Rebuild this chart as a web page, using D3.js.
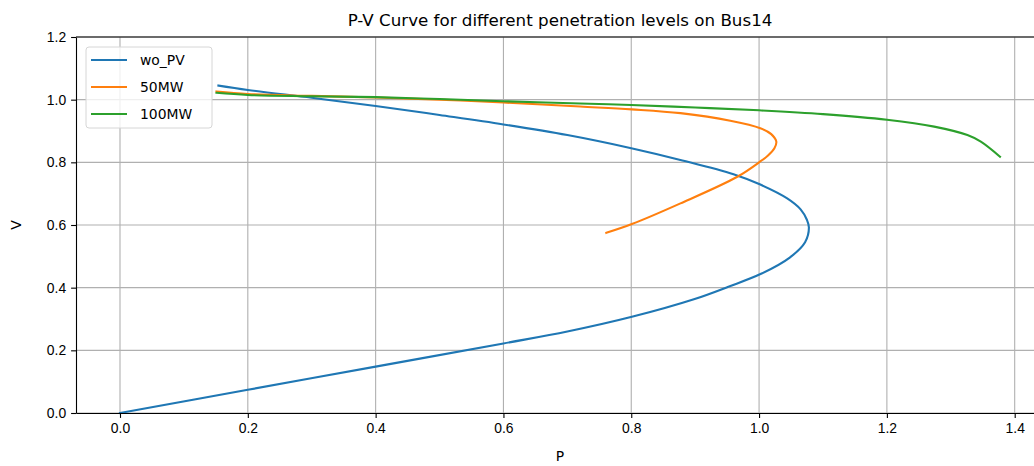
<!DOCTYPE html>
<html>
<head>
<meta charset="utf-8">
<script src="https://cdn.jsdelivr.net/npm/d3@7"></script>
<style>
  body { margin: 0; background: #fff; }
  svg { display: block; font-family: "DejaVu Sans", sans-serif; }
  .axis text { font-size: 13.9px; fill: #000; }
  .axis path, .axis line { stroke: #000; stroke-width: 1.1px; }
  .grid line { stroke: #b0b0b0; stroke-width: 1.1px; }
</style>
</head>
<body>
<div id="chart"></div>
<script>
const SERIES = ['wo_PV', '50MW', '100MW'];
const COLORS = ['#1f77b4', '#ff7f0e', '#2ca02c'];

// P values and V values
const WO_PV_P = [0.154, 0.2, 0.3, 0.4, 0.5, 0.6, 0.7, 0.8, 0.88, 0.96, 1.002, 1.044, 1.065, 1.075, 1.078, 1.072, 1.048, 1.004, 0.952, 0.898, 0.801, 0.700, 0.600, 0.400, 0.200, 0.0];
const WO_PV_V = [1.045, 1.031, 1.006, 0.980, 0.951, 0.921, 0.887, 0.845, 0.806, 0.762, 0.729, 0.685, 0.650, 0.616, 0.592, 0.545, 0.496, 0.445, 0.403, 0.363, 0.307, 0.260, 0.222, 0.148, 0.074, 0.0];

const MW50_P = [0.151, 0.2, 0.3, 0.4, 0.5, 0.6, 0.72, 0.801, 0.877, 0.955, 1.002, 1.019, 1.027, 1.024, 1.014, 1.0, 0.966, 0.877, 0.801, 0.761];
const MW50_V = [1.026, 1.018, 1.012, 1.007, 1.000, 0.991, 0.978, 0.969, 0.957, 0.933, 0.909, 0.890, 0.866, 0.845, 0.822, 0.800, 0.754, 0.669, 0.603, 0.575];

const MW100_P = [0.151, 0.2, 0.3, 0.4, 0.5, 0.6, 0.72, 0.8, 0.9, 1.0, 1.1, 1.2, 1.274, 1.326, 1.347, 1.377];
const MW100_V = [1.022, 1.015, 1.011, 1.008, 1.002, 0.995, 0.988, 0.983, 0.975, 0.966, 0.954, 0.936, 0.914, 0.887, 0.866, 0.818];

const X_TICKS = [0.0, 0.2, 0.4, 0.6, 0.8, 1.0, 1.2, 1.4];
const Y_TICKS = [0.0, 0.2, 0.4, 0.6, 0.8, 1.0, 1.2];

const data = [
  WO_PV_P.map((p, i) => ({ p, v: WO_PV_V[i] })),
  MW50_P.map((p, i) => ({ p, v: MW50_V[i] })),
  MW100_P.map((p, i) => ({ p, v: MW100_V[i] })),
];

const W = 1034, H = 466;
const m = { top: 37, left: 76, right: 1044, bottom: 413 };

const pMax = d3.max(data.flat(), d => d.p);
const pad = pMax * 0.05;

const x = d3.scaleLinear().domain([-pad, pMax + pad]).range([m.left, m.right]);
const y = d3.scaleLinear().domain([0, 1.2]).range([m.bottom, m.top]);

const svg = d3.select('#chart').append('svg')
  .attr('width', W).attr('height', H);

// grid
const grid = svg.append('g').attr('class', 'grid');
grid.selectAll('.gx').data(X_TICKS).join('line')
  .attr('x1', d => x(d)).attr('x2', d => x(d))
  .attr('y1', m.top).attr('y2', m.bottom);
grid.selectAll('.gy').data(Y_TICKS).join('line')
  .attr('y1', d => y(d)).attr('y2', d => y(d))
  .attr('x1', m.left).attr('x2', m.right);

// lines
const line = d3.line()
  .x(d => x(d.p)).y(d => y(d.v))
  .curve(d3.curveCatmullRom.alpha(0.5));

svg.append('g').selectAll('path')
  .data(data)
  .join('path')
  .attr('d', line)
  .attr('fill', 'none')
  .attr('stroke', (d, i) => COLORS[i])
  .attr('stroke-width', 2.1)
  .attr('stroke-linejoin', 'round')
  .attr('stroke-linecap', 'square');

// axes
svg.append('g')
  .attr('class', 'axis')
  .attr('transform', `translate(0,${m.bottom})`)
  .call(d3.axisBottom(x).tickValues(X_TICKS).tickFormat(d3.format('.1f')).tickSize(4.9).tickPadding(5).tickSizeOuter(0))
  .call(g => g.selectAll('text').attr('dy', '0.71em'));

svg.append('g')
  .attr('class', 'axis')
  .attr('transform', `translate(${m.left},0)`)
  .call(d3.axisLeft(y).tickValues(Y_TICKS).tickFormat(d3.format('.1f')).tickSize(4.9).tickPadding(5).tickSizeOuter(0));

// top spine
svg.append('line')
  .attr('x1', m.left).attr('x2', m.right)
  .attr('y1', m.top).attr('y2', m.top)
  .attr('stroke', '#000').attr('stroke-width', 1.1);

// title and labels
svg.append('text')
  .attr('x', (m.left + m.right) / 2).attr('y', 26)
  .attr('text-anchor', 'middle')
  .attr('font-size', '16.7px')
  .text('P-V Curve for different penetration levels on Bus14');

svg.append('text')
  .attr('x', (m.left + m.right) / 2).attr('y', 461)
  .attr('text-anchor', 'middle')
  .attr('font-size', '13.9px')
  .text('P');

svg.append('text')
  .attr('transform', `translate(21,${(m.top + m.bottom) / 2}) rotate(-90)`)
  .attr('text-anchor', 'middle')
  .attr('font-size', '13.9px')
  .text('V');

// legend
const lg = svg.append('g').attr('transform', 'translate(86,47)');
lg.append('rect')
  .attr('width', 126).attr('height', 81)
  .attr('rx', 3)
  .attr('fill', 'rgba(255,255,255,0.8)')
  .attr('stroke', '#d6d6d6').attr('stroke-width', 1);

const item = lg.selectAll('.item')
  .data(SERIES)
  .join('g')
  .attr('transform', (d, i) => `translate(0,${13 + i * 27})`);

item.append('line')
  .attr('x1', 5).attr('x2', 41)
  .attr('stroke', (d, i) => COLORS[i])
  .attr('stroke-width', 2.1);

item.append('text')
  .attr('x', 54).attr('dy', '0.35em')
  .attr('font-size', '13.9px')
  .text(d => d);
</script>
</body>
</html>
